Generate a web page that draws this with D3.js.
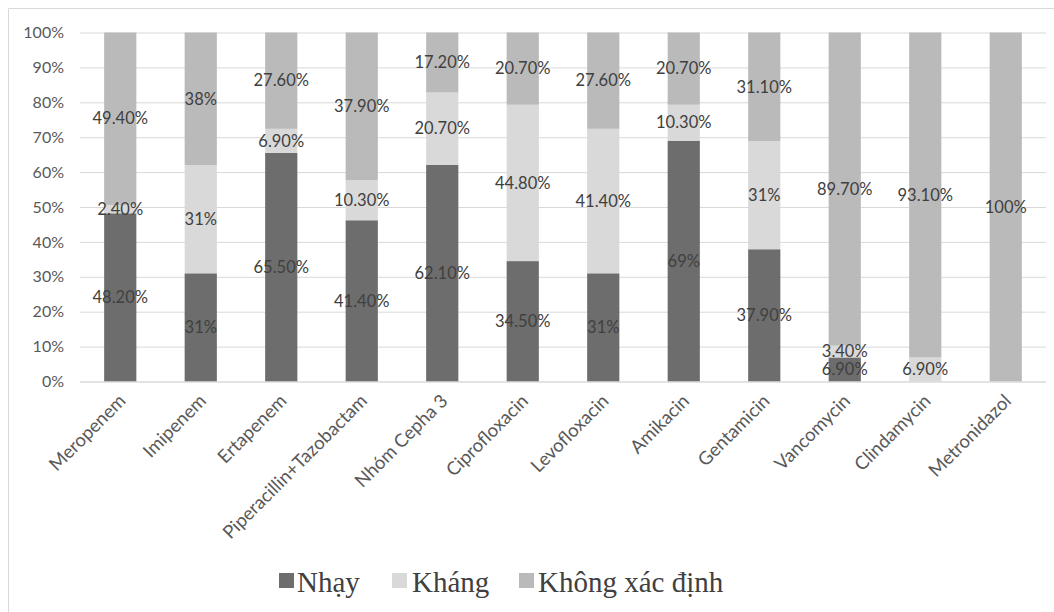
<!DOCTYPE html>
<html><head><meta charset="utf-8">
<script src="https://cdn.jsdelivr.net/npm/d3@7"></script>
<style>
html,body{margin:0;padding:0;background:#fff;}
svg{display:block;}
</style></head>
<body>
<svg id="chart" width="1054" height="612"></svg>
<script>
const categories = ["Meropenem","Imipenem","Ertapenem","Piperacillin+Tazobactam","Nhóm Cepha 3","Ciprofloxacin","Levofloxacin","Amikacin","Gentamicin","Vancomycin","Clindamycin","Metronidazol"];
const seriesNames = ["Nhạy","Kháng","Không xác định"];
const nhay = [48.2,31,65.5,41.4,62.1,34.5,31,69,37.9,6.9,0,0];
const khang = [2.4,31,6.9,10.3,20.7,44.8,41.4,10.3,31,3.4,6.9,0];
const khongXacDinh = [49.4,38,27.6,37.9,17.2,20.7,27.6,20.7,31.1,89.7,93.1,100];
const yTicks = [0,10,20,30,40,50,60,70,80,90,100];
const colors = ["#6d6d6d","#d9d9d9","#bababa"];

const svg = d3.select("#chart");
const W = 1054, H = 612;
const pLeft = 80, pRight = 1046, pTop = 32.5, pBottom = 381.5;

// chart border (top and left visible)
svg.append("line").attr("x1",8.5).attr("x2",W).attr("y1",8.5).attr("y2",8.5).attr("stroke","#d9d9d9");
svg.append("line").attr("x1",8.5).attr("x2",8.5).attr("y1",8.5).attr("y2",H).attr("stroke","#d9d9d9");

const x = d3.scaleBand().domain(categories).range([pLeft,pRight]).paddingInner(0.6).paddingOuter(0.3);
const y = d3.scaleLinear().domain([0,100]).range([pBottom,pTop]);

// gridlines
const yAxis = d3.axisLeft(y).tickValues(yTicks).tickFormat(d=>d+"%").tickSize(-(pRight-pLeft)).tickPadding(16);
const gy = svg.append("g").attr("transform",`translate(${pLeft},0)`).call(yAxis);
gy.select(".domain").remove();
gy.selectAll(".tick line").attr("stroke","#d9d9d9").attr("stroke-width",1);
gy.selectAll(".tick text").attr("fill","#595959").style("font-family","Lato, 'Open Sans', sans-serif").style("font-size","16px");

// data rows
const rows = categories.map((c,i)=>({cat:c, "Nhạy":nhay[i], "Kháng":khang[i], "Không xác định":khongXacDinh[i]}));
const norm = rows.map(r=>{
  const tot = r["Nhạy"]+r["Kháng"]+r["Không xác định"];
  const o = {cat:r.cat};
  seriesNames.forEach(s=>o[s]=r[s]/tot*100);
  return o;
});
const stackData = d3.stack().keys(seriesNames)(norm);

const g = svg.append("g");
stackData.forEach((layer,si)=>{
  g.selectAll(null).data(layer).enter().append("rect")
    .attr("x",d=>x(d.data.cat))
    .attr("width",x.bandwidth())
    .attr("y",d=>y(d[1]))
    .attr("height",d=>Math.max(0,y(d[0])-y(d[1])))
    .attr("fill",colors[si]);
});

// x axis baseline
svg.append("line").attr("x1",pLeft).attr("x2",pRight).attr("y1",y(0)+0.5).attr("y2",y(0)+0.5).attr("stroke","#d9d9d9");

// labels
const fmt = v => (Math.round(v*10)%10===0 ? String(Math.round(v)) : v.toFixed(2)) + "%";
stackData.forEach((layer,si)=>{
  layer.forEach((d,i)=>{
    const orig = rows[i][seriesNames[si]];
    if (orig<=0) return;
    svg.append("text")
      .attr("x",x(d.data.cat)+x.bandwidth()/2)
      .attr("y",y((d[0]+d[1])/2))
      .attr("dy","0.35em")
      .attr("text-anchor","middle")
      .attr("fill","#404040")
      .style("font-family","Lato, 'Open Sans', sans-serif")
      .style("font-size","16.5px")
      .text(fmt(orig));
  });
});

// category labels
const gx = svg.append("g").attr("transform",`translate(0,${pBottom})`)
  .call(d3.axisBottom(x).tickSize(0).tickPadding(0));
gx.select(".domain").remove();
gx.selectAll(".tick text")
  .attr("text-anchor","end")
  .attr("transform","translate(2,16) rotate(-45)")
  .attr("dy","0.35em")
  .attr("dx","0")
  .attr("y",0)
  .attr("fill","#595959")
  .style("font-family","Lato, 'Open Sans', sans-serif")
  .style("font-size","18.5px");

// legend
const legendItems = [{n:seriesNames[0],sx:279,tx:297},{n:seriesNames[1],sx:392,tx:412},{n:seriesNames[2],sx:519,tx:538}];
const lg = svg.append("g");
legendItems.forEach((it,i)=>{
  lg.append("rect").attr("x",it.sx).attr("y",573).attr("width",15).attr("height",15).attr("fill",colors[i]);
  lg.append("text").attr("x",it.tx).attr("y",592).attr("fill","#404040")
    .style("font-family","'Liberation Serif', 'Times New Roman', serif").style("font-size","29px")
    .text(it.n);
});
</script>
</body></html>
